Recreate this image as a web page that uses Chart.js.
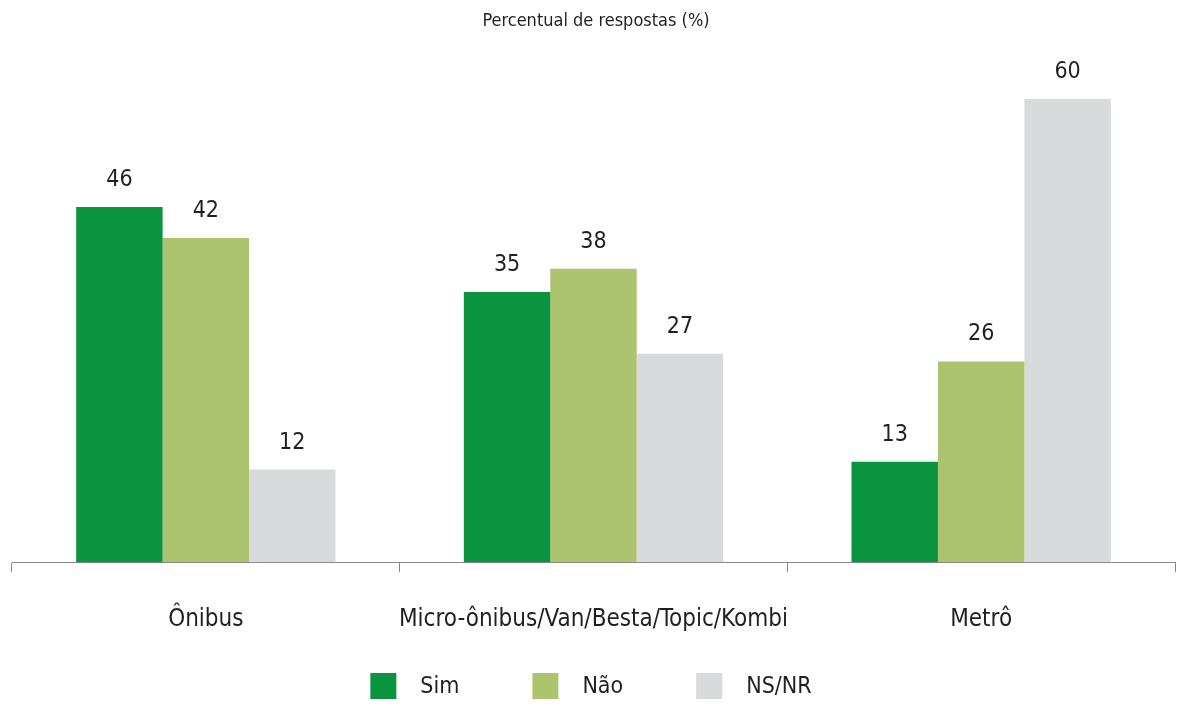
<!DOCTYPE html>
<html>
<head>
<meta charset="utf-8">
<script src="https://cdn.jsdelivr.net/npm/chart.js@4.4.0/dist/chart.umd.min.js"></script>
<style>
  html, body { margin: 0; padding: 0; background: #ffffff; }
  #wrap { width: 1182px; height: 707px; position: relative; }
</style>
</head>
<body>
<div id="wrap"><canvas id="c" width="1182" height="707"></canvas></div>
<script>
const categories = ["Ônibus", "Micro-ônibus/Van/Besta/Topic/Kombi", "Metrô"];
const seriesNames = ["Sim", "Não", "NS/NR"];
const simValues = [46, 35, 13];
const naoValues = [42, 38, 26];
const nsnrValues = [12, 27, 60];
const titleText = "Percentual de respostas (%)";

const FONT = "'DejaVu Sans Condensed', 'Liberation Sans Narrow', sans-serif";
const TEXT = "#231f20";
const colors = ["#0a9440", "#adc46e", "#d9dadb"];

const valueLabels = {
  id: 'valueLabels',
  afterDatasetsDraw(chart) {
    const ctx = chart.ctx;
    ctx.save();
    ctx.font = "23px " + FONT;
    ctx.fillStyle = TEXT;
    ctx.textAlign = 'center';
    ctx.textBaseline = 'alphabetic';
    chart.data.datasets.forEach((ds, i) => {
      chart.getDatasetMeta(i).data.forEach((bar, j) => {
        ctx.fillText(String(ds.data[j]), bar.x, bar.y - 21);
      });
    });
    ctx.restore();
  }
};

const titleAndLegend = {
  id: 'titleAndLegend',
  afterDraw(chart) {
    const ctx = chart.ctx;
    const W = chart.width;
    ctx.save();
    ctx.fillStyle = TEXT;
    ctx.font = "18px " + FONT;
    ctx.textAlign = 'center';
    ctx.textBaseline = 'middle';
    ctx.fillText(titleText, 596, 21);

    // legend
    const box = 26, gapText = 24, itemGap = 73;
    ctx.font = "23px " + FONT;
    const widths = seriesNames.map(n => box + gapText + ctx.measureText(n).width);
    const total = widths.reduce((a, b) => a + b, 0) + itemGap * (seriesNames.length - 1);
    let x = W / 2 - total / 2;
    const cy = 686;
    ctx.textAlign = 'left';
    seriesNames.forEach((n, i) => {
      ctx.fillStyle = colors[i];
      ctx.fillRect(x, cy - box / 2, box, box);
      ctx.fillStyle = TEXT;
      ctx.fillText(n, x + box + gapText, cy + 1);
      x += widths[i] + itemGap;
    });
    ctx.restore();
  }
};

const datasets = [simValues, naoValues, nsnrValues].map((vals, i) => ({
  label: seriesNames[i],
  data: vals,
  backgroundColor: colors[i],
  borderWidth: 0,
  categoryPercentage: 0.669,
  barPercentage: 1.0
}));

new Chart(document.getElementById('c'), {
  type: 'bar',
  data: { labels: categories, datasets },
  options: {
    responsive: false,
    animation: false,
    layout: { padding: { top: 99, left: 12, right: 7, bottom: 40 } },
    plugins: {
      legend: { display: false },
      title: { display: false },
      tooltip: { enabled: false }
    },
    scales: {
      x: {
        offset: true,
        grid: {
          display: true,
          offset: true,
          drawOnChartArea: false,
          drawTicks: true,
          tickLength: 10,
          color: '#888888',
          lineWidth: 1
        },
        border: { display: true, color: '#888888', width: 1 },
        ticks: {
          color: TEXT,
          font: { family: FONT, size: 24 },
          padding: 33,
          maxRotation: 0,
          autoSkip: false
        }
      },
      y: {
        display: false,
        min: 0,
        max: 60
      }
    }
  },
  plugins: [valueLabels, titleAndLegend]
});
</script>
</body>
</html>
